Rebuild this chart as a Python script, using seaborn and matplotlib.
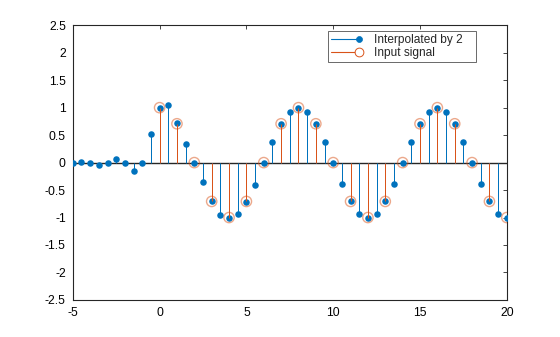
import numpy as np
import pandas as pd
import matplotlib
matplotlib.use("Agg")
import matplotlib.pyplot as plt
import seaborn as sns
from matplotlib.lines import Line2D
from matplotlib.legend_handler import HandlerBase

# Interpolated sequence (half-sample spacing)
interp_x = [-5, -4.5, -4, -3.5, -3, -2.5, -2, -1.5, -1, -0.5,
            0, 0.5, 1, 1.5, 2, 2.5, 3, 3.5, 4, 4.5,
            5, 5.5, 6, 6.5, 7, 7.5, 8, 8.5, 9, 9.5,
            10, 10.5, 11, 11.5, 12, 12.5, 13, 13.5, 14, 14.5,
            15, 15.5, 16, 16.5, 17, 17.5, 18, 18.5, 19, 19.5, 20]
interp_y = [0, 0.02, 0, -0.04, 0, 0.07, 0, -0.15, 0, 0.52,
            1.0, 1.05, 0.72, 0.33, 0, -0.35, -0.707, -0.96, -1.0, -0.93,
            -0.72, -0.41, 0, 0.38, 0.707, 0.93, 1.0, 0.93, 0.707, 0.38,
            0, -0.39, -0.707, -0.94, -1.0, -0.94, -0.707, -0.39, 0, 0.38,
            0.707, 0.93, 1.0, 0.93, 0.707, 0.38, 0, -0.39, -0.707, -0.94, -1.0]

# Original input samples
input_x = list(range(0, 21))
input_y = [1, 0.707, 0, -0.707, -1, -0.707, 0, 0.707, 1, 0.707,
           0, -0.707, -1, -0.707, 0, 0.707, 1, 0.707, 0, -0.707, -1]

x_ticks = [-5, 0, 5, 10, 15, 20]
y_ticks = [-2.5, -2, -1.5, -1, -0.5, 0, 0.5, 1, 1.5, 2, 2.5]
y_ticklabels = ["-2.5", "-2", "-1.5", "-1", "-0.5", "0", "0.5", "1", "1.5", "2", "2.5"]
labels = ["Interpolated by 2", "Input signal"]

blue = "#0072BD"
orange = "#D95319"
axis_col = "#262626"


class LineEndMarker(HandlerBase):
    """Legend entry: a line with its marker at the right end."""

    def create_artists(self, legend, orig_handle, xdescent, ydescent,
                       width, height, fontsize, trans):
        y = height / 2.0 - ydescent
        x0, x1 = -xdescent, width - xdescent
        line = Line2D([x0, x1], [y, y], color=orig_handle.get_color(),
                      lw=orig_handle.get_linewidth(), transform=trans)
        mark = Line2D([x1], [y], linestyle="none",
                      marker=orig_handle.get_marker(),
                      markersize=orig_handle.get_markersize(),
                      markerfacecolor=orig_handle.get_markerfacecolor(),
                      markeredgecolor=orig_handle.get_markeredgecolor(),
                      markeredgewidth=orig_handle.get_markeredgewidth(),
                      transform=trans)
        return [line, mark]


sns.set_style("white")
plt.rcParams["font.family"] = ["Liberation Sans", "DejaVu Sans"]

fig = plt.figure(figsize=(5.6, 3.37), dpi=100)
ax = fig.add_axes([0.13, 0.11, 0.775, 0.815])

interp = pd.DataFrame({"x": interp_x, "y": interp_y})
inp = pd.DataFrame({"x": input_x, "y": input_y})

# Zero baseline
ax.axhline(0, color=axis_col, lw=1.0, zorder=1)

# Interpolated stems with filled heads (1 px, pixel-snapped)
ax.vlines(interp["x"], 0, interp["y"], color=blue, lw=0.72, zorder=2,
          snap=True)
sns.scatterplot(data=interp, x="x", y="y", ax=ax, color=blue, s=22,
                linewidth=0, zorder=3, legend=False)

# Input stems with open circle heads, drawn over the interpolated ones
ax.vlines(inp["x"], 0, inp["y"], color=orange, lw=0.72, zorder=4,
          snap=True)
sns.scatterplot(data=inp, x="x", y="y", ax=ax, facecolor="none",
                edgecolor=orange, s=55, linewidth=1.0, alpha=0.5,
                zorder=5, legend=False)

ax.set_xlim(-5, 20)
ax.set_ylim(-2.5, 2.5)
ax.set_xticks(x_ticks)
ax.set_xticklabels([str(t) for t in x_ticks])
ax.set_yticks(y_ticks)
ax.set_yticklabels(y_ticklabels)
ax.set_xlabel("")
ax.set_ylabel("")
ax.tick_params(direction="in", length=3, width=0.6, colors=axis_col,
               labelsize=8.7, top=True, right=True, labelcolor="black")
ax.tick_params(axis="x", pad=5)
ax.tick_params(axis="y", pad=5)
for s in ax.spines.values():
    s.set_visible(True)
    s.set_color(axis_col)
    s.set_linewidth(0.8)

handles = [
    Line2D([], [], color=blue, lw=0.8, marker="o", markersize=4.3,
           markerfacecolor=blue, markeredgecolor=blue, markeredgewidth=0.5),
    Line2D([], [], color=orange, lw=0.8, marker="o", markersize=6.3,
           markerfacecolor="white", markeredgecolor=orange,
           markeredgewidth=0.7),
]
leg = ax.legend(handles, labels, loc="upper left",
                bbox_to_anchor=(0.587, 0.0, 0.343, 0.978), mode="expand",
                fontsize=8.6, handler_map={Line2D: LineEndMarker()},
                frameon=True, fancybox=False, edgecolor=axis_col,
                handlelength=2.35, handletextpad=1.25, borderpad=0.25,
                labelspacing=0.1, borderaxespad=0)
leg.get_frame().set_linewidth(0.6)

fig.savefig("out.png", dpi=100)
